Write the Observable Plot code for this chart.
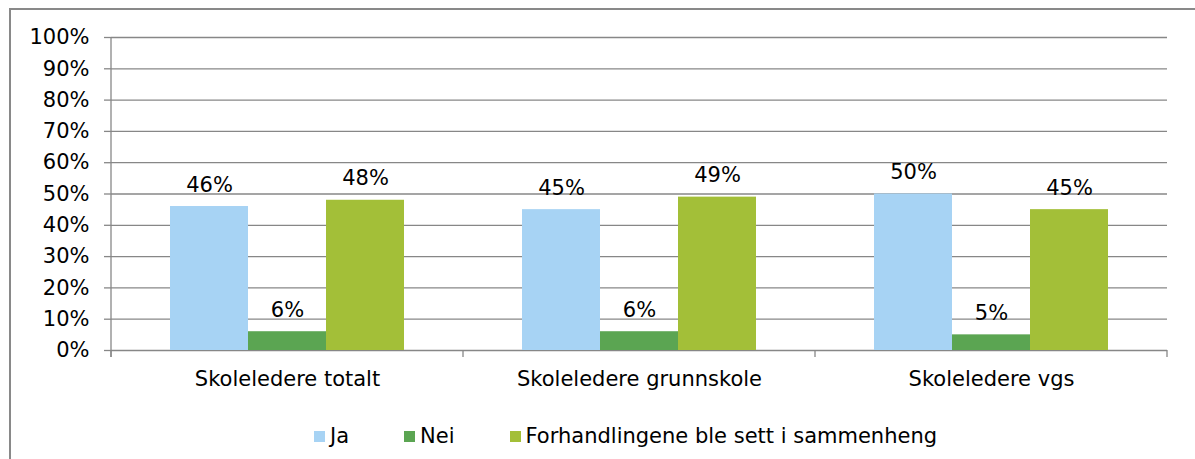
<!DOCTYPE html>
<html>
<head>
<meta charset="utf-8">
<script src="https://cdn.jsdelivr.net/npm/d3@7"></script>
<script src="https://cdn.jsdelivr.net/npm/@observablehq/plot@0.6"></script>
<style>
  html, body { margin: 0; padding: 0; background: #fff; overflow: hidden; }
  #wrap { position: relative; width: 1195px; height: 459px; overflow: hidden; font-family: "DejaVu Sans", sans-serif; }
  #border { position: absolute; left: 9px; top: 8px; width: 1300px; height: 600px; border-left: 2px solid #898989; border-top: 2px solid #898989; }
  #chart { position: absolute; left: 0; top: 0; }
  #legend { position: absolute; left: 314px; top: 426px; display: flex; align-items: center; gap: 55px; font-size: 21px; line-height: 20px; color: #000; }
  .item { display: flex; align-items: center; white-space: nowrap; }
  .sw { width: 11px; height: 11px; margin-right: 5px; display: inline-block; }
</style>
</head>
<body>
<div id="wrap">
  <div id="border"></div>
  <div id="chart"></div>
  <div id="legend"></div>
</div>
<script>
const categories = ["Skoleledere totalt", "Skoleledere grunnskole", "Skoleledere vgs"];
const series = ["Ja", "Nei", "Forhandlingene ble sett i sammenheng"];
const jaValues = [46, 45, 50];
const neiValues = [6, 6, 5];
const forhValues = [48, 49, 45];
const yTicks = [0, 10, 20, 30, 40, 50, 60, 70, 80, 90, 100];
const colors = ["#a7d3f4", "#5ba552", "#a3bf38"];
const gray = "#878787";

const seriesValues = [jaValues, neiValues, forhValues];
const data = categories.flatMap((c, i) => series.map((s, j) => ({cat: c, series: s, value: seriesValues[j][i]})));

const chart = Plot.plot({
  width: 1195,
  height: 400,
  marginLeft: 111,
  marginRight: 28,
  marginTop: 37,
  marginBottom: 50,
  style: {fontFamily: "DejaVu Sans", fontSize: "21px", color: "#000", background: "transparent", overflow: "visible"},
  facet: {data, x: "cat"},
  fx: {domain: categories, padding: 0, label: null, tickSize: 0, tickPadding: 21},
  x: {domain: series, paddingInner: 0, paddingOuter: 0.745, axis: null},
  y: {domain: [0, 100], ticks: yTicks, tickFormat: d => d + "%", tickSize: 7, tickPadding: 15, label: null},
  color: {domain: series, range: colors},
  marks: [
    Plot.ruleY(yTicks, {stroke: gray, strokeWidth: 1.3}),
    Plot.barY(data, {x: "series", y: "value", fill: "series"}),
    Plot.text(data, {x: "series", y: "value", text: d => d.value + "%", dy: -15, lineAnchor: "bottom", fill: "#000"})
  ]
});
document.getElementById("chart").appendChild(chart);

// axis line and category separators derived from the scales
const svg = d3.select(chart);
svg.selectAll("[aria-label='y-axis tick'] path, [aria-label='y-axis tick'] line, .tick line").attr("stroke", gray).attr("stroke-width", 1.3);
const fxS = chart.scale("fx"), yS = chart.scale("y");
const y0 = yS.apply(0), yTop = yS.apply(yTicks[yTicks.length - 1]);
const edges = categories.map(c => fxS.apply(c));
edges.push(fxS.apply(categories[categories.length - 1]) + fxS.bandwidth);
const g = svg.append("g").attr("stroke", gray).attr("stroke-width", 1.3);
g.append("line").attr("x1", edges[0]).attr("x2", edges[0]).attr("y1", yTop).attr("y2", y0 + 7);
edges.forEach(x => g.append("line").attr("x1", x).attr("x2", x).attr("y1", y0).attr("y2", y0 + 7));

// legend
const legend = d3.select("#legend");
series.forEach((s, i) => {
  const it = legend.append("div").attr("class", "item");
  it.append("span").attr("class", "sw").style("background", colors[i]);
  it.append("span").text(s);
});
</script>
</body>
</html>
